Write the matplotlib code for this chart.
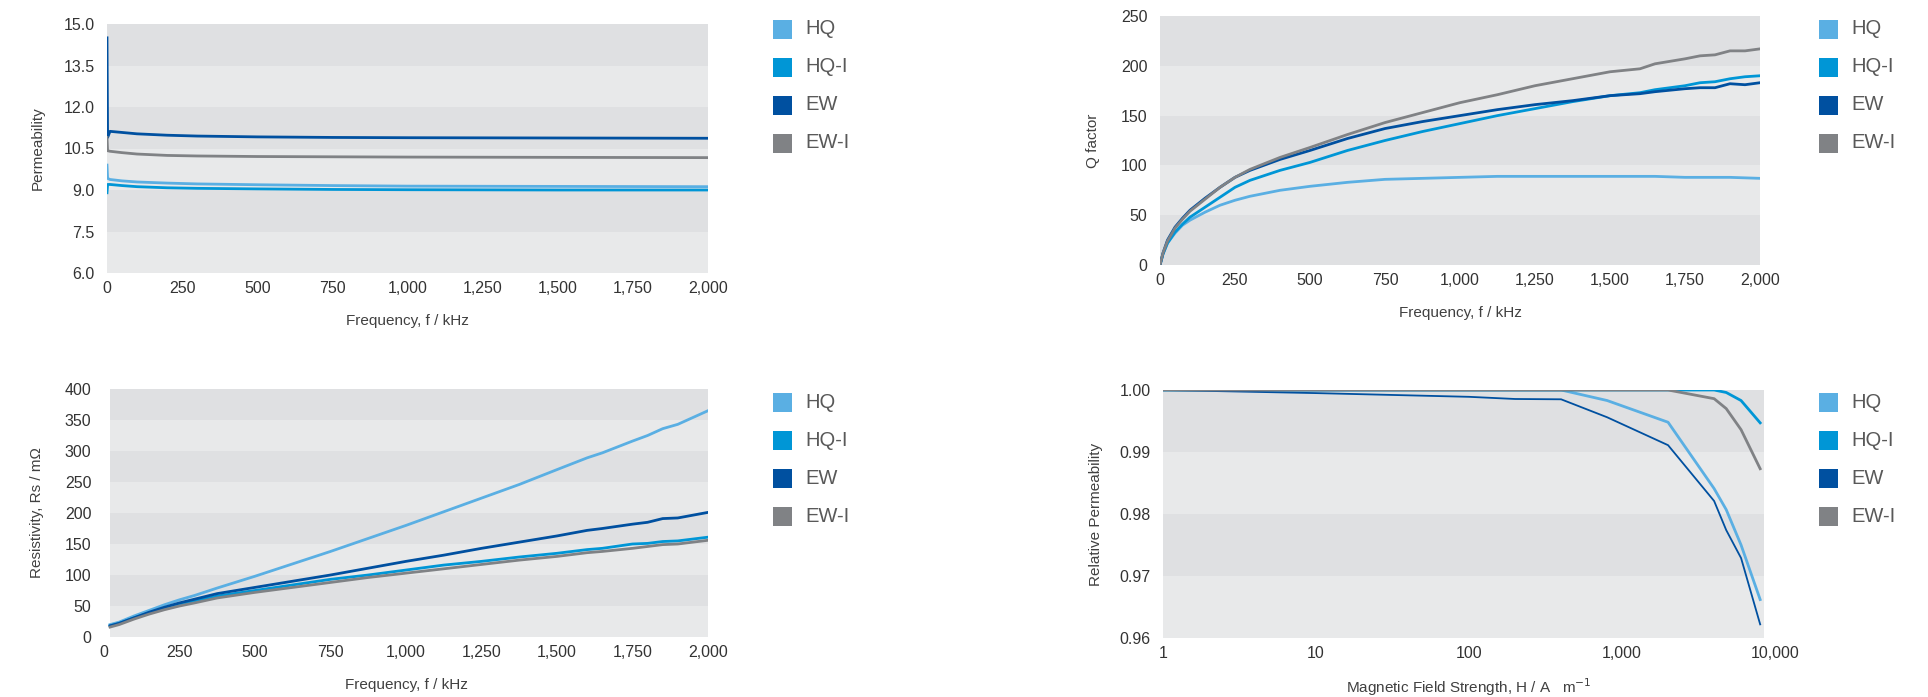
import matplotlib
matplotlib.use("Agg")
import matplotlib.pyplot as plt
from matplotlib.patches import Rectangle
from matplotlib.ticker import FuncFormatter, FixedLocator, NullLocator

plt.rcParams['font.family'] = ['Liberation Sans', 'DejaVu Sans']

# === series names / colours ===
NAMES = ["HQ", "HQ-I", "EW", "EW-I"]
COLORS = {"HQ": "#5aafe3", "HQ-I": "#0096d6", "EW": "#0050a0", "EW-I": "#808285"}
BAND_DARK = "#dfe0e2"
BAND_LIGHT = "#e8e9ea"

# === permeability vs frequency (kHz) ===
perm_f = [0, 2, 10, 50, 100, 200, 300, 500, 750, 1000, 1500, 2000]
perm = {
    "HQ":   [9.9, 9.42, 9.38, 9.33, 9.29, 9.25, 9.22, 9.19, 9.16, 9.14, 9.13, 9.12],
    "HQ-I": [8.9, 9.2, 9.2, 9.16, 9.12, 9.08, 9.06, 9.04, 9.02, 9.01, 9.0, 9.0],
    "EW":   [14.5, 10.9, 11.12, 11.08, 11.03, 10.98, 10.95, 10.92, 10.9, 10.89, 10.88, 10.87],
    "EW-I": [10.9, 10.42, 10.4, 10.35, 10.3, 10.25, 10.23, 10.21, 10.2, 10.19, 10.18, 10.17],
}

# === Q factor vs frequency (kHz) ===
q_f = [0, 10, 25, 50, 75, 100, 150, 200, 250, 300, 400, 500, 625, 750, 875, 1000,
       1125, 1250, 1375, 1500, 1600, 1650, 1750, 1800, 1850, 1900, 1950, 2000]
q = {
    "HQ":   [0, 11, 22, 32, 40, 45, 53, 60, 65, 69, 75, 79, 83, 86, 87, 88,
             89, 89, 89, 89, 89, 89, 88, 88, 88, 88, 87.5, 87],
    "HQ-I": [0, 11, 22, 33, 41, 48, 58, 68, 78, 85, 95, 103, 115, 125, 134, 142,
             150, 157, 164, 170, 173, 176, 180, 183, 184, 187, 189, 190],
    "EW":   [0, 12, 25, 38, 47, 55, 67, 78, 88, 95, 106, 115, 127, 137, 144, 150,
             156, 161, 165, 170, 172, 174, 177, 178, 178, 182, 181, 183],
    "EW-I": [0, 12, 24, 37, 46, 54, 66, 78, 88, 96, 108, 118, 131, 143, 153, 163,
             171, 180, 187, 194, 197, 202, 207, 210, 211, 215, 215, 217],
}

# === resistivity vs frequency (kHz) ===
rs_f = [20, 50, 100, 150, 200, 250, 300, 375, 500, 625, 750, 875, 1000, 1125,
        1250, 1375, 1500, 1600, 1650, 1750, 1800, 1850, 1900, 2000]
rs = {
    "HQ":   [20, 24, 34, 43, 52, 60, 67, 79, 98, 118, 138, 159, 180, 202,
             224, 246, 270, 289, 297, 316, 325, 336, 343, 365],
    "HQ-I": [18, 22, 31, 39, 46, 53, 58, 66, 75, 84, 93, 100, 108, 116,
             122, 129, 135, 141, 143, 150, 151, 154, 155, 161],
    "EW":   [18, 22, 31, 40, 48, 55, 61, 70, 80, 90, 100, 111, 122, 132,
             143, 153, 163, 172, 175, 182, 185, 191, 192, 201],
    "EW-I": [16, 20, 29, 37, 44, 50, 55, 63, 72, 80, 88, 96, 103, 110,
             117, 124, 130, 136, 138, 143, 146, 149, 150, 156],
}

# === relative permeability vs field strength (A/m) ===
h_field = [1, 10, 100, 200, 400, 800, 2000, 4000, 4800, 6000, 8000]
rel_perm = {
    "HQ":   [1.0, 1.0, 1.0, 1.0, 1.0, 0.9983, 0.9948, 0.9841, 0.9807, 0.9750, 0.9662],
    "HQ-I": [1.0, 1.0, 1.0, 1.0, 1.0, 1.0, 1.0, 1.0, 0.9996, 0.9983, 0.9947],
    "EW":   [1.0, 0.9995, 0.9989, 0.99855, 0.9985, 0.9956, 0.9911, 0.9821, 0.9774, 0.9729, 0.9622],
    "EW-I": [1.0, 1.0, 1.0, 1.0, 1.0, 1.0, 1.0, 0.9986, 0.9970, 0.9936, 0.9873],
}

W, H = 1928, 697
fig = plt.figure(figsize=(W / 100, H / 100), dpi=100)


def px_axes(left, top, width, height):
    return fig.add_axes([left / W, (H - top - height) / H, width / W, height / H])


def bands(ax, edges, xmin=0.0, xmax=1.0):
    # alternating stripes, darker on top
    n = len(edges) - 1
    for i in range(n):
        lo, hi = edges[i], edges[i + 1]
        dark = (n - 1 - i) % 2 == 0
        ax.axhspan(lo, hi, xmin=xmin, xmax=xmax, color=BAND_DARK if dark else BAND_LIGHT,
                   lw=0, zorder=0)


def style(ax):
    for s in ax.spines.values():
        s.set_visible(False)
    ax.tick_params(length=0, labelsize=11.5, labelcolor="#333333")
    ax.tick_params(axis="x", pad=6)
    ax.tick_params(axis="y", pad=9)


def legend(x, y0, step=38):
    for i, n in enumerate(NAMES):
        yc = y0 + i * step
        fig.add_artist(Rectangle((x / W, (H - yc - 9.5) / H), 19 / W, 19 / H,
                                 transform=fig.transFigure, color=COLORS[n], lw=0))
        fig.text((x + 32) / W, (H - yc) / H, n, fontsize=14.5, color="#595959",
                 va="center", ha="left")


comma = FuncFormatter(lambda v, p: f"{v:,.0f}")

# --- 1: permeability ---
ax1 = px_axes(107, 24, 601, 249)
ticks1 = [6.0, 7.5, 9.0, 10.5, 12.0, 13.5, 15.0]
bands(ax1, ticks1)
for n in NAMES:
    ax1.plot(perm_f, perm[n], color=COLORS[n], lw=2, zorder=3)
ax1.set_xlim(0, 2000)
ax1.set_ylim(6, 15)
ax1.set_yticks(ticks1)
ax1.yaxis.set_major_formatter(FuncFormatter(lambda v, p: f"{v:.1f}"))
ax1.set_xticks(range(0, 2001, 250))
ax1.xaxis.set_major_formatter(comma)
style(ax1)
ax1.set_xlabel("Frequency, f / kHz", fontsize=11, color="#404040", labelpad=13)
ax1.set_ylabel("Permeability", fontsize=11, color="#404040")
ax1.yaxis.set_label_coords(-0.103, 0.5)

# --- 2: Q factor ---
ax2 = px_axes(1160, 16, 600, 249)
ticks2 = [0, 50, 100, 150, 200, 250]
bands(ax2, ticks2)
for n in NAMES:
    ax2.plot(q_f, q[n], color=COLORS[n], lw=2, zorder=3)
ax2.set_xlim(0, 2000)
ax2.set_ylim(0, 250)
ax2.set_yticks(ticks2)
ax2.set_xticks(range(0, 2001, 250))
ax2.xaxis.set_major_formatter(comma)
style(ax2)
ax2.set_xlabel("Frequency, f / kHz", fontsize=11, color="#404040", labelpad=13)
ax2.set_ylabel("Q factor", fontsize=11, color="#404040")
ax2.yaxis.set_label_coords(-0.1, 0.5)

# --- 3: resistivity ---
ax3 = px_axes(104, 389, 604, 248)
ticks3 = list(range(0, 401, 50))
bands(ax3, ticks3, xmin=0.01)
for n in NAMES:
    ax3.plot(rs_f, rs[n], color=COLORS[n], lw=2, zorder=3)
ax3.set_xlim(0, 2000)
ax3.set_ylim(0, 400)
ax3.set_yticks(ticks3)
ax3.set_xticks(range(0, 2001, 250))
ax3.xaxis.set_major_formatter(comma)
style(ax3)
ax3.set_xlabel("Frequency, f / kHz", fontsize=11, color="#404040", labelpad=13)
ax3.set_ylabel("Resistivity, Rs / mΩ", fontsize=11, color="#404040")
ax3.yaxis.set_label_coords(-0.1, 0.5)

# --- 4: relative permeability (log H) ---
ax4 = px_axes(1163, 390, 612, 248)
ticks4 = [0.96, 0.97, 0.98, 0.99, 1.00]
bands(ax4, ticks4, xmax=0.982)
for n in NAMES:
    ax4.plot(h_field, rel_perm[n], color=COLORS[n], lw=1.3 if n == "EW" else 2, zorder=3)
ax4.set_xscale("log")
ax4.set_xlim(1, 10000)
ax4.set_ylim(0.96, 1.0)
ax4.set_yticks(ticks4)
ax4.yaxis.set_major_formatter(FuncFormatter(lambda v, p: f"{v:.2f}"))
ax4.xaxis.set_major_locator(FixedLocator([1, 10, 100, 1000, 10000]))
ax4.xaxis.set_minor_locator(NullLocator())
ax4.xaxis.set_major_formatter(comma)
style(ax4)
ax4.set_xlabel("Magnetic Field Strength, H / A   m$^{-1}$", fontsize=11, color="#404040", labelpad=11)
ax4.set_ylabel("Relative Permeability", fontsize=11, color="#404040")
ax4.yaxis.set_label_coords(-0.098, 0.5)

legend(773, 29)
legend(1819, 29)
legend(773, 402)
legend(1819, 402)

fig.savefig("out.png", dpi=100)
